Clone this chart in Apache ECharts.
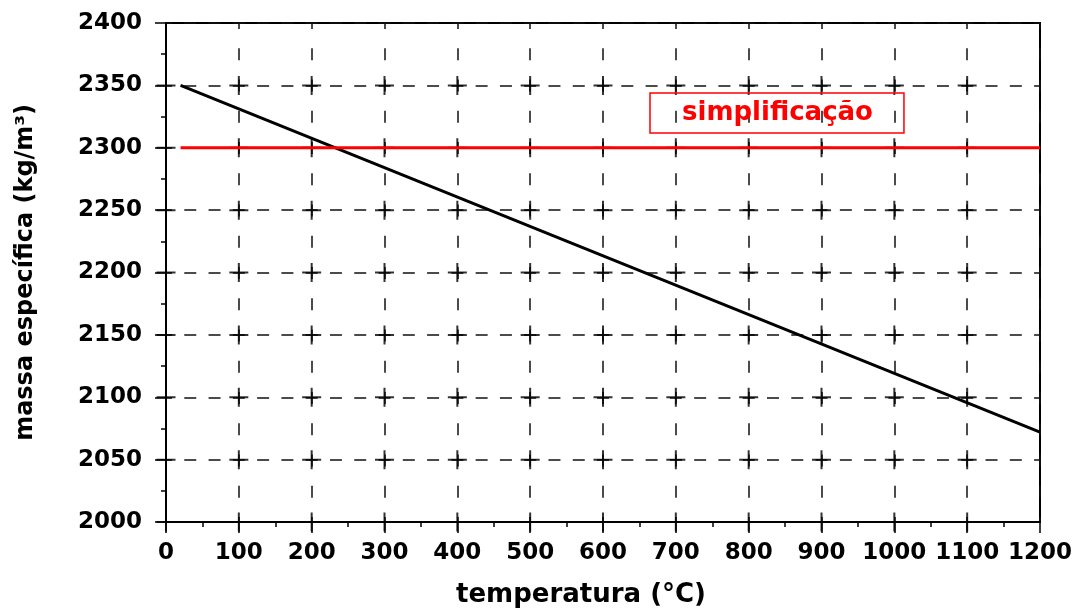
<!DOCTYPE html>
<html>
<head>
<meta charset="utf-8">
<script src="https://cdn.jsdelivr.net/npm/echarts@6/dist/echarts.min.js"></script>
<style>
  html, body { margin: 0; padding: 0; background: #fff; }
  #chart { width: 1078px; height: 613px; }
</style>
</head>
<body>
<div id="chart"></div>
<script>
// Concrete density versus temperature, with the simplified constant value
const temperatures = [20, 1200];
const density = [2350, 2072];
const simplifiedTemps = [20, 1200];
const simplifiedDensity = [2300, 2300];

const xTicks = [0, 100, 200, 300, 400, 500, 600, 700, 800, 900, 1000, 1100, 1200];
const yTicks = [2000, 2050, 2100, 2150, 2200, 2250, 2300, 2350, 2400];

const simplifiedName = 'simplificação';
const FONT = 'DejaVu Sans';

// Grid crosses at the inner intersections of the major ticks
const crossPoints = [];
xTicks.slice(0, -1).forEach(function (x) {
  yTicks.slice(0, -1).forEach(function (y) { crossPoints.push([x, y]); });
});

const plainNumber = function (v) { return String(v); };

const chart = echarts.init(document.getElementById('chart'));
chart.setOption({
  animation: false,
  backgroundColor: '#fff',
  grid: {
    left: 166, right: 38, top: 23, bottom: 90,
    show: true, borderColor: '#000', borderWidth: 2, backgroundColor: 'transparent'
  },
  legend: {
    data: [simplifiedName],
    left: 650, top: 93,
    padding: [7, 31, 7, 27],
    itemWidth: 0, itemHeight: 0, icon: 'rect',
    selectedMode: false,
    borderColor: '#ff0000', borderWidth: 1.5,
    textStyle: { color: '#ff0000', fontFamily: FONT, fontWeight: 'bold', fontSize: 26 }
  },
  xAxis: {
    type: 'value', min: 0, max: 1200, interval: 100,
    name: 'temperatura (°C)', nameLocation: 'middle', nameGap: 60,
    nameTextStyle: { color: '#000', fontFamily: FONT, fontWeight: 'bold', fontSize: 26, padding: [0, 44, 0, 0] },
    axisLine: { show: true, onZero: false, lineStyle: { color: '#000', width: 2 } },
    axisTick: { show: true, length: 11, lineStyle: { color: '#000', width: 1.5 } },
    minorTick: { show: true, splitNumber: 2, length: 5, lineStyle: { color: '#000', width: 1.5 } },
    axisLabel: { color: '#000', fontFamily: FONT, fontWeight: 'bold', fontSize: 23, margin: 20, formatter: plainNumber },
    splitLine: { show: true, lineStyle: { color: '#111', width: 1.5, type: [12, 19.25], dashOffset: 6 } }
  },
  yAxis: {
    type: 'value', min: 2000, max: 2400, interval: 50,
    name: 'massa específica (kg/m³)', nameLocation: 'middle', nameGap: 128,
    nameTextStyle: { color: '#000', fontFamily: FONT, fontWeight: 'bold', fontSize: 24 },
    axisLine: { show: true, onZero: false, lineStyle: { color: '#000', width: 2 } },
    axisTick: { show: true, length: 11, lineStyle: { color: '#000', width: 1.5 } },
    minorTick: { show: true, splitNumber: 2, length: 5, lineStyle: { color: '#000', width: 1.5 } },
    axisLabel: { color: '#000', fontFamily: FONT, fontWeight: 'bold', fontSize: 23, margin: 24, formatter: plainNumber },
    splitLine: { show: true, lineStyle: { color: '#111', width: 1.5, type: [12, 12.28], dashOffset: 6 } }
  },
  series: [
    {
      type: 'scatter',
      data: crossPoints,
      symbol: 'path://M8.5,0H10.5V8.5H19V10.5H10.5V19H8.5V10.5H0V8.5H8.5Z',
      symbolSize: 19,
      itemStyle: { color: '#000' },
      silent: true,
      z: 1
    },
    {
      name: 'densidade',
      type: 'line',
      data: temperatures.map(function (t, i) { return [t, density[i]]; }),
      symbol: 'none',
      lineStyle: { color: '#000', width: 3 },
      z: 3
    },
    {
      name: simplifiedName,
      type: 'line',
      data: simplifiedTemps.map(function (t, i) { return [t, simplifiedDensity[i]]; }),
      symbol: 'none',
      itemStyle: { color: '#ff0000' },
      lineStyle: { color: '#ff0000', width: 3 },
      z: 4
    }
  ]
});
</script>
</body>
</html>
